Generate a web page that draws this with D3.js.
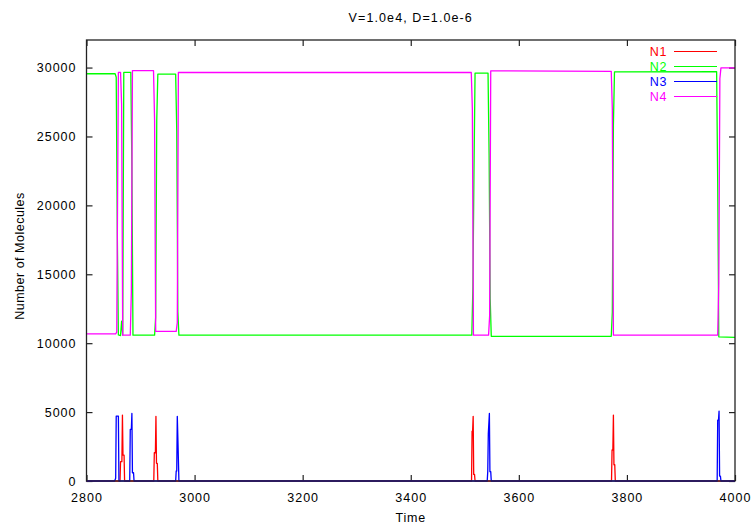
<!DOCTYPE html>
<html>
<head>
<meta charset="utf-8">
<script src="https://cdn.jsdelivr.net/npm/d3@7"></script>
<style>
  html, body { margin: 0; padding: 0; background: #fff; }
  svg { display: block; }
  text { font-family: "Liberation Sans", Arial, Helvetica, sans-serif; fill: #000; }
</style>
</head>
<body>
<svg id="chart" width="752" height="527"></svg>
<script>
// Stochastic simulation run: molecule counts of four species over time.
const chartTitle = "V=1.0e4, D=1.0e-6";
const xLabel = "Time";
const yLabel = "Number of Molecules";

const xTicks = [2800, 3000, 3200, 3400, 3600, 3800, 4000];
const yTicks = [0, 5000, 10000, 15000, 20000, 25000, 30000];

// [time, count] samples for each species
const n1 = [
  [2800, 0], [2862, 0], [2863, 1400], [2865.5, 1400], [2866.5, 4780], [2867.5, 1880], [2869.5, 1880], [2870.5, 0],
  [2924.5, 0], [2925.5, 2050], [2927.5, 2050], [2928.5, 4690], [2929.5, 1280], [2931, 1280], [2932, 0],
  [3512.5, 0], [3513.5, 3620], [3514.5, 3620], [3515.5, 4690], [3516.5, 480], [3518, 480], [3519, 0],
  [3771.5, 0], [3772.5, 2250], [3774, 2250], [3775, 4780], [3776, 1180], [3777.5, 1180], [3778.5, 0],
  [4000, 0]
];

const n2 = [
  [2800, 29550], [2853, 29550], [2855, 29300], [2857, 18000], [2859, 10600], [2863, 10550], [2865, 11600],
  [2867, 10600], [2869, 29650], [2882, 29650], [2884, 22800], [2886, 10580], [2926, 10580], [2928, 11900],
  [2930, 26150], [2932, 29520], [2965, 29520], [2967, 25400], [2969, 12300], [2971, 10580],
  [3513, 10580], [3515, 14100], [3517, 22500], [3519, 29600], [3543, 29600], [3545, 23600], [3547, 13200],
  [3549, 10500], [3771, 10500], [3773, 12250], [3775, 25800], [3777, 29680], [3966, 29700],
  [3968, 21570], [3970, 10460], [4000, 10420]
];

const n3 = [
  [2800, 0], [2852, 0], [2854, 200], [2855, 4710], [2859, 4710], [2860, 0],
  [2880, 0], [2881, 3740], [2883, 3740], [2884, 4900], [2885, 600], [2887, 600], [2888, 0],
  [2965, 0], [2966, 725], [2967, 725], [2968, 4690], [2969.5, 2440], [2971, 0],
  [3541.5, 0], [3542.5, 700], [3543.5, 3400], [3545.5, 4900], [3546.5, 680], [3548, 680], [3549, 0],
  [3967, 0], [3968, 4420], [3969.5, 4420], [3970.5, 5070], [3971.5, 360], [3973, 360], [3974, 0],
  [4000, 0]
];

const n4 = [
  [2800, 10680], [2854, 10680], [2856, 10800], [2857, 17500], [2859, 29650], [2863, 29650], [2865, 27300],
  [2867, 10580], [2881, 10580], [2883, 13700], [2885, 29780], [2924, 29780], [2926, 26150], [2928, 10850],
  [2966, 10850], [2968, 11500], [2970, 29640], [3512, 29640], [3514, 27000], [3516, 10580],
  [3544, 10580], [3546, 12000], [3548, 29760], [3771, 29730], [3773, 27000], [3775, 10580],
  [3968, 10580], [3970, 14350], [3972, 29200], [3974, 29980], [4000, 29980]
];

const seriesNames = ["N1", "N2", "N3", "N4"];
const seriesColors = ["#ff0000", "#00ff00", "#0000ff", "#ff00ff"];
const seriesData = [n1, n2, n3, n4];

const svg = d3.select("#chart");
const margin = { left: 86.5, right: 17, top: 40, bottom: 46 };
const W = 752, H = 527;
const x0 = margin.left, x1 = W - margin.right;
const y0 = H - margin.bottom, y1 = margin.top;

const x = d3.scaleLinear().domain([2800, 4000]).range([x0, x1]);
const y = d3.scaleLinear().domain([0, 32000]).range([y0, y1]);

const tickLen = 6;

// Inward-facing ticks on all four sides, labels on bottom and left only
const gBottom = svg.append("g").attr("transform", `translate(0,${y0})`)
  .call(d3.axisBottom(x).tickValues(xTicks).tickSizeInner(-tickLen).tickSizeOuter(0).tickPadding(12).tickFormat(d3.format("d")));
const gTop = svg.append("g").attr("transform", `translate(0,${y1})`)
  .call(d3.axisTop(x).tickValues(xTicks).tickSizeInner(-tickLen).tickSizeOuter(0).tickFormat(""));
const gLeft = svg.append("g").attr("transform", `translate(${x0},0)`)
  .call(d3.axisLeft(y).tickValues(yTicks).tickSizeInner(-tickLen).tickSizeOuter(0).tickPadding(10).tickFormat(d3.format("d")));
const gRight = svg.append("g").attr("transform", `translate(${x1},0)`)
  .call(d3.axisRight(y).tickValues(yTicks).tickSizeInner(-tickLen).tickSizeOuter(0).tickFormat(""));

[gBottom, gTop, gLeft, gRight].forEach(g => {
  g.select(".domain").remove();
  g.selectAll(".tick line").attr("stroke", "#222").attr("stroke-width", 1.2);
  g.selectAll(".tick text")
    .attr("fill", "#000")
    .style("font-family", "'Liberation Sans', Arial, sans-serif")
    .style("font-size", "12.5px")
    .style("letter-spacing", "1px");
});
gBottom.selectAll(".tick text").attr("dy", "0.71em");

// Series lines
const line = d3.line().x(d => x(d[0])).y(d => y(d[1]));
const gLines = svg.append("g");

// Legend entries, top-right inside the frame
const legendTextRight = 667;
const legendLine = [674, 717];
const legendTop = 51.5;
const legendStep = 15;

seriesData.forEach((data, i) => {
  const ly = legendTop + i * legendStep;
  gLines.append("text")
    .attr("x", legendTextRight).attr("y", ly).attr("dy", "0.36em")
    .attr("text-anchor", "end")
    .style("font-size", "12.5px").style("letter-spacing", "0.6px")
    .style("fill", seriesColors[i])
    .text(seriesNames[i]);
  gLines.append("line")
    .attr("x1", legendLine[0]).attr("x2", legendLine[1])
    .attr("y1", ly).attr("y2", ly)
    .attr("stroke", seriesColors[i]).attr("stroke-width", 1.2);
  gLines.append("path")
    .datum(data)
    .attr("fill", "none")
    .attr("stroke", seriesColors[i])
    .attr("stroke-width", 1.3)
    .attr("stroke-linejoin", "round")
    .attr("d", line);
});

// Frame
svg.append("rect")
  .attr("x", x0).attr("y", y1)
  .attr("width", x1 - x0).attr("height", y0 - y1)
  .attr("fill", "none").attr("stroke", "#222").attr("stroke-width", 1.3);

// Title and axis labels
svg.append("text")
  .attr("x", (x0 + x1) / 2).attr("y", 17).attr("dy", "0.36em")
  .attr("text-anchor", "middle")
  .style("font-size", "12.5px").style("letter-spacing", "1.1px")
  .text(chartTitle);

svg.append("text")
  .attr("x", (x0 + x1) / 2).attr("y", 517).attr("dy", "0.36em")
  .attr("text-anchor", "middle")
  .style("font-size", "12.5px").style("letter-spacing", "0.8px")
  .text(xLabel);

svg.append("text")
  .attr("transform", `translate(19,256) rotate(-90)`)
  .attr("dy", "0.36em")
  .attr("text-anchor", "middle")
  .style("font-size", "12.5px").style("letter-spacing", "0.5px")
  .text(yLabel);
</script>
</body>
</html>
